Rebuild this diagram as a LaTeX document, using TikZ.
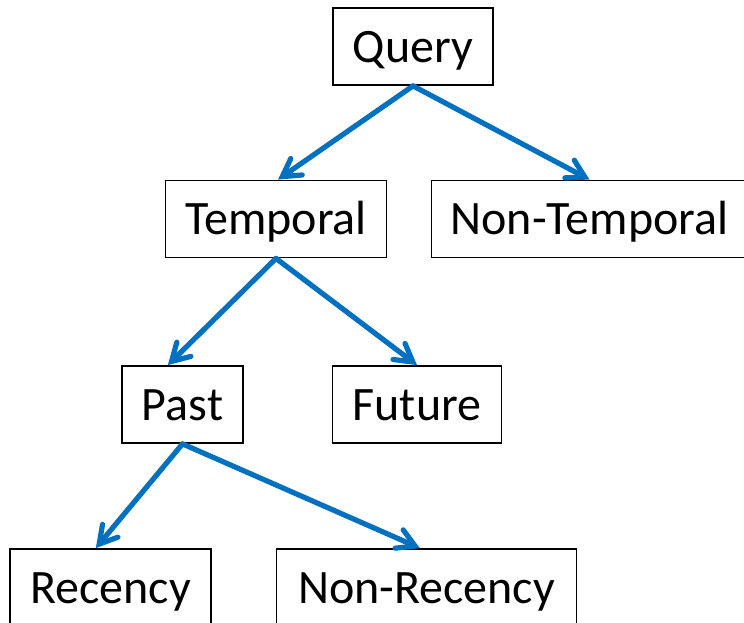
\documentclass[tikz,border=0pt]{standalone}
\usepackage{fontspec}
\setmainfont{Carlito}
\usetikzlibrary{arrows.meta}
\definecolor{arrowblue}{RGB}{0,112,192}

\begin{document}
\begin{tikzpicture}[x=0.75pt,y=-0.75pt,
    box/.style={draw=black, line width=1.1pt, fill=white, minimum height=58pt,
      inner sep=0pt, text height=30pt, text depth=6pt,
      font=\fontsize{36}{43}\selectfont},
    link/.style={draw=arrowblue, line width=3.9pt, line cap=round, line join=round,
      -{Straight Barb[length=13pt,width=15pt,line cap=round]}}]
  \useasboundingbox (0,0) rectangle (744,623);
  \node[box, minimum width=120pt] (query) at (413,46.5) {Query};
  \node[box, minimum width=166pt] (temporal) at (276,219) {Temporal};
  \node[box, minimum width=237pt] (nontemporal) at (589.5,219) {Non-Temporal};
  \node[box, minimum width=91pt] (past) at (182.5,404.5) {Past};
  \node[box, minimum width=127pt] (future) at (417,404.5) {Future};
  \node[box, minimum width=151pt] (recency) at (110.5,587.5) {Recency};
  \node[box, minimum width=225pt] (nonrecency) at (426.5,587.5) {Non-Recency};
  \draw[link] (query.south) -- ([xshift=1.5pt]temporal.north);
  \draw[link] (query.south) -- (nontemporal.north);
  \draw[link] (temporal.south) -- ([xshift=-11pt]past.north);
  \draw[link] (temporal.south) -- (future.north);
  \draw[link] (past.south) -- ([xshift=-11pt]recency.north);
  \draw[link] (past.south) -- ([xshift=-5pt]nonrecency.north);
\end{tikzpicture}
\end{document}
